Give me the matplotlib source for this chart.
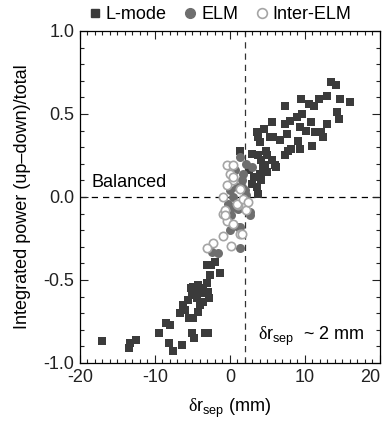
import matplotlib
matplotlib.use("Agg")
import matplotlib.pyplot as plt
from matplotlib.ticker import MultipleLocator, FormatStrFormatter
from matplotlib.lines import Line2D

plt.rcParams['font.family'] = ['Liberation Sans', 'DejaVu Sans']
plt.rcParams['mathtext.fontset'] = 'custom'
plt.rcParams['mathtext.rm'] = 'Liberation Sans'
plt.rcParams['mathtext.it'] = 'Liberation Sans:italic'
plt.rcParams['mathtext.sf'] = 'Liberation Serif'  # upright serif delta
plt.rcParams['axes.unicode_minus'] = False

# L-mode points (delta r_sep in mm, integrated power asymmetry)
lmode_x = [13.5, 14.2, 13.0, 14.7, 16.0, 11.9, 9.5, 10.5, 11.2, 7.4, 14.3, 14.5,
           9.6, 8.9, 8.0, 5.6, 7.3, 10.8, 13.0, 9.4, 10.2, 11.3, 12.2, 12.4,
           7.6, 6.7, 4.6, 3.6, 3.8, 5.3, 5.8, 9.1, 9.4, 8.2, 11.0, 4.0, 7.4,
           7.8, 4.8, 5.0, 3.8, 3.0, 5.6, 6.0, 4.7, 4.2, 1.3, 2.9, 3.8, 3.6,
           4.2, 4.0, 2.9, 4.4, 6.2, 3.2, 5.0, 2.5,
           -17.0, -13.5, -13.3, -12.5, -9.4, -8.5, -8.0, -8.1, -7.6, -6.4,
           -5.0, -4.8, -3.3, -2.9, -6.6, -6.0, -5.4, -4.9, -4.2, -6.2, -5.6,
           -5.1, -4.9, -4.2, -3.6, -2.9, -3.0, -4.4, -3.6, -2.8, -4.0, -2.7,
           -2.5, -3.0, -1.3, -2.0, -5.2, -3.8, -4.6]
lmode_y = [0.69, 0.675, 0.61, 0.59, 0.57, 0.59, 0.59, 0.56, 0.55, 0.55, 0.51, 0.47,
           0.50, 0.48, 0.46, 0.45, 0.44, 0.45, 0.44, 0.42, 0.40, 0.39, 0.39, 0.36,
           0.38, 0.345, 0.41, 0.39, 0.36, 0.36, 0.36, 0.34, 0.29, 0.29, 0.31, 0.33, 0.25,
           0.28, 0.28, 0.25, 0.25, 0.26, 0.22, 0.19, 0.19, 0.22, 0.28, 0.26, 0.02, 0.06,
           0.10, 0.14, 0.08, 0.18, 0.18, 0.12, 0.15, 0.16,
           -0.87, -0.91, -0.88, -0.86, -0.82, -0.76, -0.77, -0.88, -0.93, -0.89,
           -0.82, -0.85, -0.82, -0.82, -0.70, -0.68, -0.73, -0.73, -0.69, -0.65, -0.62,
           -0.59, -0.54, -0.53, -0.55, -0.57, -0.52, -0.61, -0.63, -0.61, -0.65, -0.47,
           -0.41, -0.41, -0.46, -0.39, -0.55, -0.58, -0.57]

# ELM-averaged points
elm_x = [-2.4, -1.6, 0.0, 1.3, 1.3, 2.7, 1.1, 0.2, 1.3, 2.2, 1.8, 0.7, 0.9,
         2.0, 2.2, 0.4, 2.7, 1.1, 0.0, 2.9, 1.6, 1.1, -0.2, 0.4, 1.6]
elm_y = [-0.33, -0.34, -0.20, -0.31, -0.18, -0.11, -0.07, -0.11, 0.24, 0.20, 0.14,
         0.16, 0.06, 0.04, 0.01, 0.0, -0.09, -0.06, 0.04, 0.18, 0.06, -0.18, -0.04,
         -0.06, 0.10]

# Inter-ELM points
inter_x = [-2.2, -0.9, 0.2, 1.3, -0.9, 1.1, 2.2, -0.4, 0.4, -0.4, 0.4, 0.0, 0.4,
           -0.4, -0.9, -0.7, 0.9, 1.3, 1.8, -0.7, 0.4, 2.4, 1.6, -3.0]
inter_y = [-0.275, -0.235, -0.295, -0.225, -0.10, -0.05, -0.08, -0.145, -0.165,
           0.19, 0.19, 0.14, 0.10, 0.07, 0.0, -0.08, -0.04, 0.05, -0.01, -0.11,
           0.12, -0.03, -0.22, -0.31]

xticks = [-20, -10, 0, 10, 20]
sep_shift = 2.0
fs = 13

fig = plt.figure(figsize=(3.87, 4.25), dpi=100)
ax = fig.add_axes([0.2067, 0.1459, 0.7752, 0.7812])

ax.axhline(0, color='black', ls=(0, (5, 4)), lw=0.9, zorder=1)
ax.axvline(sep_shift, color='#333333', ls=(0, (5, 4)), lw=0.9, zorder=1)

ax.scatter(lmode_x, lmode_y, marker='s', s=30, color='#3b3b3b', lw=0, zorder=2)
ax.scatter(elm_x, elm_y, marker='o', s=42, color='#6e6e6e', lw=0, zorder=3)
ax.scatter(inter_x, inter_y, marker='o', s=36, facecolor='white',
           edgecolor='#a5a5a5', lw=1.2, zorder=4)

ax.set_xlim(-20, 20)
ax.set_ylim(-1.0, 1.0)
ax.set_xticks(xticks)
ax.xaxis.set_minor_locator(MultipleLocator(1))
ax.yaxis.set_major_locator(MultipleLocator(0.5))
ax.yaxis.set_minor_locator(MultipleLocator(0.1))
ax.yaxis.set_major_formatter(FormatStrFormatter('%.1f'))
ax.tick_params(which='both', direction='in', top=True, right=True,
               labelsize=fs, width=0.8, colors='#222222')
ax.tick_params(which='major', length=6, pad=4)
ax.tick_params(which='minor', length=3)
for sp in ax.spines.values():
    sp.set_linewidth(0.9)

# keep the last x tick label ("20") inside the figure
ax.xaxis.get_major_ticks()[len(xticks) - 1].label1.set_horizontalalignment('right')

ax.set_xlabel('$\\mathsf{\\delta}$r$_{\\rm sep}$ (mm)', fontsize=fs, labelpad=8)
ax.set_ylabel('Integrated power (up\u2013down)/total', fontsize=fs, labelpad=9)

ax.text(-18.5, 0.085, 'Balanced', fontsize=fs, ha='left', va='center')
ax.text(3.7, -0.84, '$\\mathsf{\\delta}$r$_{\\rm sep}$  ~ 2 mm', fontsize=fs,
        ha='left', va='center')

handles = [
    Line2D([], [], marker='s', ls='', color='#3b3b3b', markersize=6),
    Line2D([], [], marker='o', ls='', color='#6e6e6e', markersize=7),
    Line2D([], [], marker='o', ls='', markerfacecolor='white',
           markeredgecolor='#a5a5a5', markeredgewidth=1.2, markersize=7),
]
fig.legend(handles, ['L-mode', 'ELM', 'Inter-ELM'], loc='center',
           bbox_to_anchor=(0.565, 0.966), ncol=3, frameon=False, fontsize=fs,
           handletextpad=0.1, columnspacing=0.8, handlelength=1.0, borderpad=0)

fig.savefig('out.png', dpi=100)
